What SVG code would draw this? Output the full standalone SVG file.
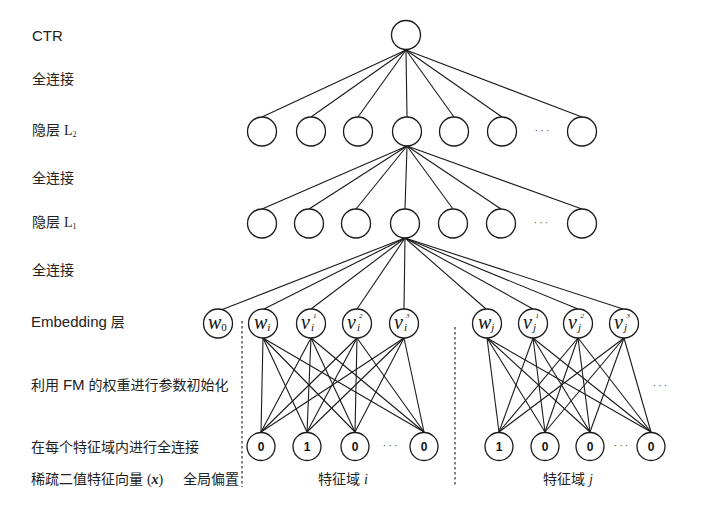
<svg xmlns="http://www.w3.org/2000/svg" width="713" height="525" viewBox="0 0 713 525">
<style>
.n{fill:#fff;stroke:#1a1a1a;stroke-width:1.3}
.c line{stroke:#1a1a1a;stroke-width:1.1}
.lbl{font-family:"Liberation Sans","Noto Sans CJK SC",sans-serif;font-size:14px;fill:#222}
.lat{font-size:15px}
.ser{font-family:"Liberation Serif",serif}
.m{font-family:"Liberation Serif",serif;font-style:italic;fill:#111}
.b{font-family:"Liberation Sans",sans-serif;font-weight:bold;font-size:12px;fill:#111;text-anchor:middle}
.dots{font-family:"Liberation Sans",sans-serif;font-size:11px;fill:#555;text-anchor:middle;letter-spacing:2px}
.dash{stroke:#1a1a1a;stroke-width:1.2;stroke-dasharray:2.5 2.5}
</style>
<rect width="713" height="525" fill="#fff"/>

<g id="labels" class="lbl">
<text x="32" y="41" class="lat">CTR</text>
<text x="32" y="84">全连接</text>
<text x="32" y="135">隐层 <tspan class="ser" font-size="14">L</tspan><tspan class="ser" font-size="8" dy="2">2</tspan></text>
<text x="32" y="183">全连接</text>
<text x="32" y="227">隐层 <tspan class="ser" font-size="14">L</tspan><tspan class="ser" font-size="8" dy="2">1</tspan></text>
<text x="32" y="275">全连接</text>
<text x="31" y="327"><tspan class="lat">Embedding</tspan> 层</text>
<text x="31" y="390">利用 <tspan class="lat">FM</tspan> 的权重进行参数初始化</text>
<text x="31" y="452">在每个特征域内进行全连接</text>
<text x="31" y="484">稀疏二值特征向量 <tspan class="ser">(<tspan font-style="italic" font-weight="bold">x</tspan>)</tspan></text>
<text x="183" y="484">全局偏置</text>
<text x="318" y="484">特征域 <tspan class="ser" font-style="italic">i</tspan></text>
<text x="543" y="484">特征域 <tspan class="ser" font-style="italic">j</tspan></text>
</g>

<g id="connectors" class="c">
<line x1="406" y1="50" x2="262" y2="117"/>
<line x1="406" y1="50" x2="311" y2="117"/>
<line x1="406" y1="50" x2="358" y2="117"/>
<line x1="406" y1="50" x2="407" y2="117"/>
<line x1="406" y1="50" x2="454" y2="117"/>
<line x1="406" y1="50" x2="502" y2="117"/>
<line x1="406" y1="50" x2="582" y2="117"/>
<line x1="407" y1="146" x2="262" y2="209"/>
<line x1="407" y1="146" x2="309" y2="209"/>
<line x1="407" y1="146" x2="356" y2="209"/>
<line x1="407" y1="146" x2="405" y2="209"/>
<line x1="407" y1="146" x2="453" y2="209"/>
<line x1="407" y1="146" x2="501" y2="209"/>
<line x1="407" y1="146" x2="582" y2="209"/>
<line x1="405" y1="238" x2="221" y2="310"/>
<line x1="405" y1="238" x2="264" y2="309"/>
<line x1="405" y1="238" x2="311" y2="309"/>
<line x1="405" y1="238" x2="357" y2="309"/>
<line x1="405" y1="238" x2="404" y2="309"/>
<line x1="405" y1="238" x2="486" y2="309"/>
<line x1="405" y1="238" x2="533" y2="309"/>
<line x1="405" y1="238" x2="578" y2="309"/>
<line x1="405" y1="238" x2="623" y2="309"/>
<line x1="263" y1="338" x2="261" y2="432"/><line x1="263" y1="338" x2="307" y2="432"/><line x1="263" y1="338" x2="355" y2="432"/><line x1="263" y1="338" x2="424" y2="432"/>
<line x1="311" y1="338" x2="261" y2="432"/><line x1="311" y1="338" x2="307" y2="432"/><line x1="311" y1="338" x2="355" y2="432"/><line x1="311" y1="338" x2="424" y2="432"/>
<line x1="357" y1="338" x2="261" y2="432"/><line x1="357" y1="338" x2="307" y2="432"/><line x1="357" y1="338" x2="355" y2="432"/><line x1="357" y1="338" x2="424" y2="432"/>
<line x1="404" y1="338" x2="261" y2="432"/><line x1="404" y1="338" x2="307" y2="432"/><line x1="404" y1="338" x2="355" y2="432"/><line x1="404" y1="338" x2="424" y2="432"/>
<line x1="487" y1="338" x2="499" y2="432"/><line x1="487" y1="338" x2="545" y2="432"/><line x1="487" y1="338" x2="590" y2="432"/><line x1="487" y1="338" x2="651" y2="432"/>
<line x1="533" y1="338" x2="499" y2="432"/><line x1="533" y1="338" x2="545" y2="432"/><line x1="533" y1="338" x2="590" y2="432"/><line x1="533" y1="338" x2="651" y2="432"/>
<line x1="578" y1="338" x2="499" y2="432"/><line x1="578" y1="338" x2="545" y2="432"/><line x1="578" y1="338" x2="590" y2="432"/><line x1="578" y1="338" x2="651" y2="432"/>
<line x1="624" y1="338" x2="499" y2="432"/><line x1="624" y1="338" x2="545" y2="432"/><line x1="624" y1="338" x2="590" y2="432"/><line x1="624" y1="338" x2="651" y2="432"/>
<line class="dash" x1="242" y1="321" x2="242" y2="487"/>
<line class="dash" x1="455" y1="327" x2="455" y2="487"/>
</g>

<g id="ctr"><circle class="n" cx="406" cy="35" r="14.5"/></g>

<g id="L2">
<circle class="n" cx="262" cy="131.5" r="14.5"/>
<circle class="n" cx="311" cy="131.5" r="14.5"/>
<circle class="n" cx="358" cy="131.5" r="14.5"/>
<circle class="n" cx="407" cy="131.5" r="14.5"/>
<circle class="n" cx="454" cy="131.5" r="14.5"/>
<circle class="n" cx="502" cy="131.5" r="14.5"/>
<circle class="n" cx="582" cy="131.5" r="14.5"/>
<text class="dots" x="543" y="134">···</text>
</g>

<g id="L1">
<circle class="n" cx="262" cy="223.5" r="14.5"/>
<circle class="n" cx="309" cy="223.5" r="14.5"/>
<circle class="n" cx="356" cy="223.5" r="14.5"/>
<circle class="n" cx="405" cy="223.5" r="14.5"/>
<circle class="n" cx="453" cy="223.5" r="14.5"/>
<circle class="n" cx="501" cy="223.5" r="14.5"/>
<circle class="n" cx="582" cy="223.5" r="14.5"/>
<text class="dots" x="542" y="226">···</text>
</g>

<g id="emb-w0"><circle class="n" cx="218" cy="323.5" r="14.5"/><text class="m" x="208" y="329" font-size="20">w<tspan font-size="11" font-style="normal" dy="2">0</tspan></text></g>
<g id="emb-wi"><circle class="n" cx="263" cy="323.5" r="14.5"/><text class="m" x="254" y="329" font-size="20">w<tspan font-size="11" dy="2">i</tspan></text></g>
<g id="emb-vi1"><circle class="n" cx="311" cy="323.5" r="14.5"/><text class="m" x="301" y="329" font-size="20">v</text><text class="m" x="311" y="331" font-size="11">i</text><text class="m" x="313" y="318" font-size="7" font-style="normal">1</text></g>
<g id="emb-vi2"><circle class="n" cx="357" cy="323.5" r="14.5"/><text class="m" x="347" y="329" font-size="20">v</text><text class="m" x="357" y="331" font-size="11">i</text><text class="m" x="359" y="318" font-size="7" font-style="normal">2</text></g>
<g id="emb-vi3"><circle class="n" cx="404" cy="323.5" r="14.5"/><text class="m" x="394" y="329" font-size="20">v</text><text class="m" x="404" y="331" font-size="11">i</text><text class="m" x="406" y="318" font-size="7" font-style="normal">3</text></g>
<g id="emb-wj"><circle class="n" cx="487" cy="323.5" r="14.5"/><text class="m" x="478" y="329" font-size="20">w<tspan font-size="11" dy="2">j</tspan></text></g>
<g id="emb-vj1"><circle class="n" cx="533" cy="323.5" r="14.5"/><text class="m" x="523" y="329" font-size="20">v</text><text class="m" x="533" y="331" font-size="11">j</text><text class="m" x="535.5" y="318" font-size="7" font-style="normal">1</text></g>
<g id="emb-vj2"><circle class="n" cx="578" cy="323.5" r="14.5"/><text class="m" x="568" y="329" font-size="20">v</text><text class="m" x="578" y="331" font-size="11">j</text><text class="m" x="580.5" y="318" font-size="7" font-style="normal">2</text></g>
<g id="emb-vj3"><circle class="n" cx="624" cy="323.5" r="14.5"/><text class="m" x="614" y="329" font-size="20">v</text><text class="m" x="624" y="331" font-size="11">j</text><text class="m" x="626.5" y="318" font-size="7" font-style="normal">3</text></g>

<g id="field-i">
<circle class="n" cx="261" cy="446.5" r="14"/><text class="b" x="261" y="451">0</text>
<circle class="n" cx="307" cy="446.5" r="14"/><text class="b" x="307" y="451">1</text>
<circle class="n" cx="355" cy="446.5" r="14"/><text class="b" x="355" y="451">0</text>
<text class="dots" x="391" y="449">···</text>
<circle class="n" cx="424" cy="446.5" r="14"/><text class="b" x="424" y="451">0</text>
</g>

<g id="field-j">
<circle class="n" cx="499" cy="446.5" r="14"/><text class="b" x="499" y="451">1</text>
<circle class="n" cx="545" cy="446.5" r="14"/><text class="b" x="545" y="451">0</text>
<circle class="n" cx="590" cy="446.5" r="14"/><text class="b" x="590" y="451">0</text>
<text class="dots" x="622" y="449">···</text>
<circle class="n" cx="651" cy="446.5" r="14"/><text class="b" x="651" y="451">0</text>
<text class="dots" x="661" y="389">···</text>
</g>
</svg>
